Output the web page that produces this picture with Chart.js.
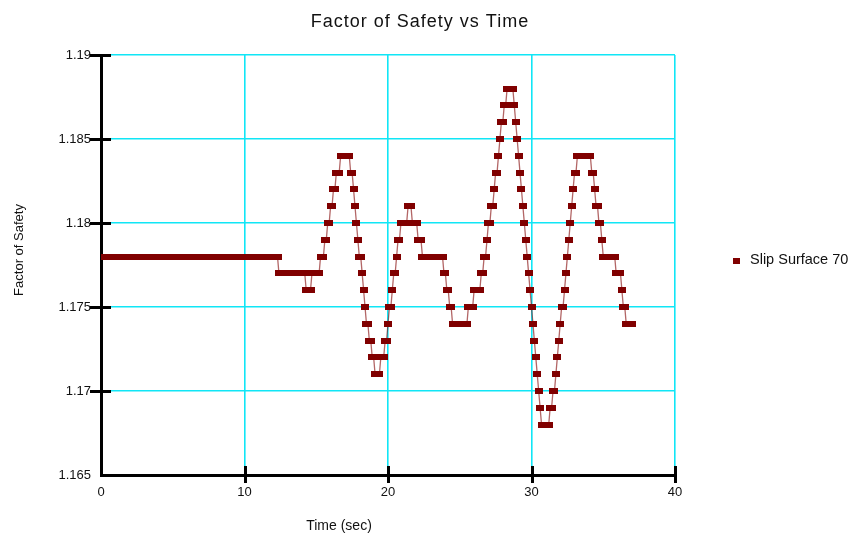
<!DOCTYPE html>
<html>
<head>
<meta charset="utf-8">
<script src="https://cdn.jsdelivr.net/npm/chart.js@4.4.1/dist/chart.umd.min.js"></script>
<style>
html, body { margin: 0; padding: 0; background: #fff; }
</style>
</head>
<body>
<canvas id="myChart" width="854" height="535"></canvas>
<script>
// datos (un renglon = un segundo, paso de 0.1 s)
const timeStep = 0.1;
const fosValues = [
    1.178, 1.178, 1.178, 1.178, 1.178, 1.178, 1.178, 1.178, 1.178, 1.178,
    1.178, 1.178, 1.178, 1.178, 1.178, 1.178, 1.178, 1.178, 1.178, 1.178,
    1.178, 1.178, 1.178, 1.178, 1.178, 1.178, 1.178, 1.178, 1.178, 1.178,
    1.178, 1.178, 1.178, 1.178, 1.178, 1.178, 1.178, 1.178, 1.178, 1.178,
    1.178, 1.178, 1.178, 1.178, 1.178, 1.178, 1.178, 1.178, 1.178, 1.178,
    1.178, 1.178, 1.178, 1.178, 1.178, 1.178, 1.178, 1.178, 1.178, 1.178,
    1.178, 1.178, 1.178, 1.178, 1.178, 1.178, 1.178, 1.178, 1.178, 1.178,
    1.178, 1.178, 1.178, 1.178, 1.178, 1.178, 1.178, 1.178, 1.178, 1.178,
    1.178, 1.178, 1.178, 1.178, 1.178, 1.178, 1.178, 1.178, 1.178, 1.178,
    1.178, 1.178, 1.178, 1.178, 1.178, 1.178, 1.178, 1.178, 1.178, 1.178,
    1.178, 1.178, 1.178, 1.178, 1.178, 1.178, 1.178, 1.178, 1.178, 1.178,
    1.178, 1.178, 1.178, 1.178, 1.178, 1.178, 1.178, 1.178, 1.178, 1.178,
    1.178, 1.178, 1.178, 1.178, 1.177, 1.177, 1.177, 1.177, 1.177, 1.177,
    1.177, 1.177, 1.177, 1.177, 1.177, 1.177, 1.177, 1.177, 1.177, 1.177,
    1.177, 1.177, 1.177, 1.176, 1.176, 1.176, 1.176, 1.177, 1.177, 1.177,
    1.177, 1.177, 1.177, 1.178, 1.178, 1.178, 1.179, 1.179, 1.180, 1.180,
    1.181, 1.181, 1.182, 1.182, 1.183, 1.183, 1.183, 1.184, 1.184, 1.184,
    1.184, 1.184, 1.184, 1.184, 1.183, 1.183, 1.182, 1.181, 1.180, 1.179,
    1.178, 1.178, 1.177, 1.176, 1.175, 1.174, 1.174, 1.173, 1.173, 1.172,
    1.172, 1.171, 1.171, 1.171, 1.171, 1.172, 1.172, 1.172, 1.173, 1.173,
    1.174, 1.175, 1.175, 1.176, 1.177, 1.177, 1.178, 1.179, 1.179, 1.180,
    1.180, 1.180, 1.180, 1.180, 1.181, 1.181, 1.181, 1.180, 1.180, 1.180,
    1.180, 1.179, 1.179, 1.179, 1.178, 1.178, 1.178, 1.178, 1.178, 1.178,
    1.178, 1.178, 1.178, 1.178, 1.178, 1.178, 1.178, 1.178, 1.178, 1.177,
    1.177, 1.176, 1.176, 1.175, 1.175, 1.174, 1.174, 1.174, 1.174, 1.174,
    1.174, 1.174, 1.174, 1.174, 1.174, 1.174, 1.175, 1.175, 1.175, 1.175,
    1.176, 1.176, 1.176, 1.176, 1.176, 1.177, 1.177, 1.178, 1.178, 1.179,
    1.180, 1.180, 1.181, 1.181, 1.182, 1.183, 1.183, 1.184, 1.185, 1.186,
    1.186, 1.187, 1.187, 1.188, 1.188, 1.188, 1.188, 1.188, 1.187, 1.186,
    1.185, 1.184, 1.183, 1.182, 1.181, 1.180, 1.179, 1.178, 1.177, 1.176,
    1.175, 1.174, 1.173, 1.172, 1.171, 1.170, 1.169, 1.168, 1.168, 1.168,
    1.168, 1.168, 1.168, 1.169, 1.169, 1.170, 1.170, 1.171, 1.172, 1.173,
    1.174, 1.175, 1.175, 1.176, 1.177, 1.178, 1.179, 1.180, 1.181, 1.182,
    1.183, 1.183, 1.184, 1.184, 1.184, 1.184, 1.184, 1.184, 1.184, 1.184,
    1.184, 1.184, 1.183, 1.183, 1.182, 1.181, 1.181, 1.180, 1.180, 1.179,
    1.178, 1.178, 1.178, 1.178, 1.178, 1.178, 1.178, 1.178, 1.178, 1.177,
    1.177, 1.177, 1.177, 1.176, 1.175, 1.175, 1.174, 1.174, 1.174, 1.174,
    1.174
];
const xTicks = [0, 10, 20, 30, 40];
const yTicks = [1.165, 1.17, 1.175, 1.18, 1.185, 1.19];

const chartTitle = 'Factor of Safety vs Time';
const xTitle = 'Time (sec)';
const yTitle = 'Factor of Safety';
const seriesName = 'Slip Surface 70';

const maroon = '#800000';
const cyan = '#10e6f6';
const fontFam = '"Liberation Sans", Arial, sans-serif';

// marcador rectangular como en la original
const marker = document.createElement('canvas');
marker.width = 8;
marker.height = 6;
const mctx = marker.getContext('2d');
mctx.fillStyle = maroon;
mctx.fillRect(0, 0, 8, 6);

const puntos = fosValues.map((v, i) => ({ x: i * timeStep, y: v }));

// titulos, leyenda y marcas que cruzan los ejes
const extras = {
    id: 'extras',
    afterDraw(chart) {
        const ctx = chart.ctx;
        const area = chart.chartArea;
        const xs = chart.scales.x;
        const ys = chart.scales.y;
        ctx.save();
        ctx.strokeStyle = '#000';
        ctx.lineWidth = 3;
        yTicks.slice(1).forEach(v => {
            const y = Math.round(ys.getPixelForValue(v)) + 0.5;
            ctx.beginPath();
            ctx.moveTo(area.left - 11, y);
            ctx.lineTo(area.left + 10, y);
            ctx.stroke();
        });
        xTicks.slice(1).forEach(v => {
            const x = Math.round(xs.getPixelForValue(v)) + 0.5;
            ctx.beginPath();
            ctx.moveTo(x, area.bottom - 9);
            ctx.lineTo(x, area.bottom + 8);
            ctx.stroke();
        });

        ctx.fillStyle = '#111';
        ctx.textAlign = 'center';
        ctx.textBaseline = 'alphabetic';
        ctx.font = '18px ' + fontFam;
        ctx.letterSpacing = '1px';
        ctx.fillText(chartTitle, 420, 27);
        ctx.letterSpacing = '0px';

        ctx.font = '14px ' + fontFam;
        ctx.fillText(xTitle, 339, 530);

        ctx.save();
        ctx.translate(23, 250);
        ctx.rotate(-Math.PI / 2);
        ctx.font = '13px ' + fontFam;
        ctx.fillText(yTitle, 0, 0);
        ctx.restore();

        ctx.fillStyle = maroon;
        ctx.fillRect(733, 258, 7, 6);
        ctx.fillStyle = '#111';
        ctx.textAlign = 'left';
        ctx.font = '14.5px ' + fontFam;
        ctx.fillText(seriesName, 750, 264);
        ctx.restore();
    }
};

const ctx1 = document.getElementById('myChart').getContext('2d');
const myChart = new Chart(ctx1, {
    type: 'line',
    data: {
        datasets: [{
            label: seriesName,
            data: puntos,
            borderColor: 'rgba(128, 0, 0, 0.6)',
            borderWidth: 1.3,
            pointStyle: marker,
            pointRadius: 4,
            pointHoverRadius: 4,
            tension: 0,
            fill: false
        }]
    },
    options: {
        responsive: false,
        animation: false,
        events: [],
        layout: {
            padding: { left: 0, top: 55, right: 179, bottom: 0 }
        },
        plugins: {
            legend: { display: false },
            title: { display: false },
            tooltip: { enabled: false }
        },
        scales: {
            x: {
                type: 'linear',
                min: 0,
                max: 40,
                afterFit: s => { s.height = 60; },
                afterBuildTicks: s => { s.ticks = xTicks.map(v => ({ value: v })); },
                grid: { color: cyan, lineWidth: 1.6, drawTicks: false },
                border: { color: '#000', width: 3 },
                ticks: {
                    padding: 10,
                    color: '#111',
                    font: { family: fontFam, size: 13 },
                    maxRotation: 0,
                    callback: v => String(v)
                }
            },
            y: {
                type: 'linear',
                min: 1.165,
                max: 1.19,
                afterFit: s => { s.width = 101; },
                afterBuildTicks: s => { s.ticks = yTicks.map(v => ({ value: v })); },
                grid: { color: cyan, lineWidth: 1.6, drawTicks: false },
                border: { color: '#000', width: 3 },
                ticks: {
                    padding: 10,
                    color: '#111',
                    font: { family: fontFam, size: 13 },
                    callback: v => String(Number(v.toFixed(3)))
                }
            }
        }
    },
    plugins: [extras]
});
</script>
</body>
</html>
